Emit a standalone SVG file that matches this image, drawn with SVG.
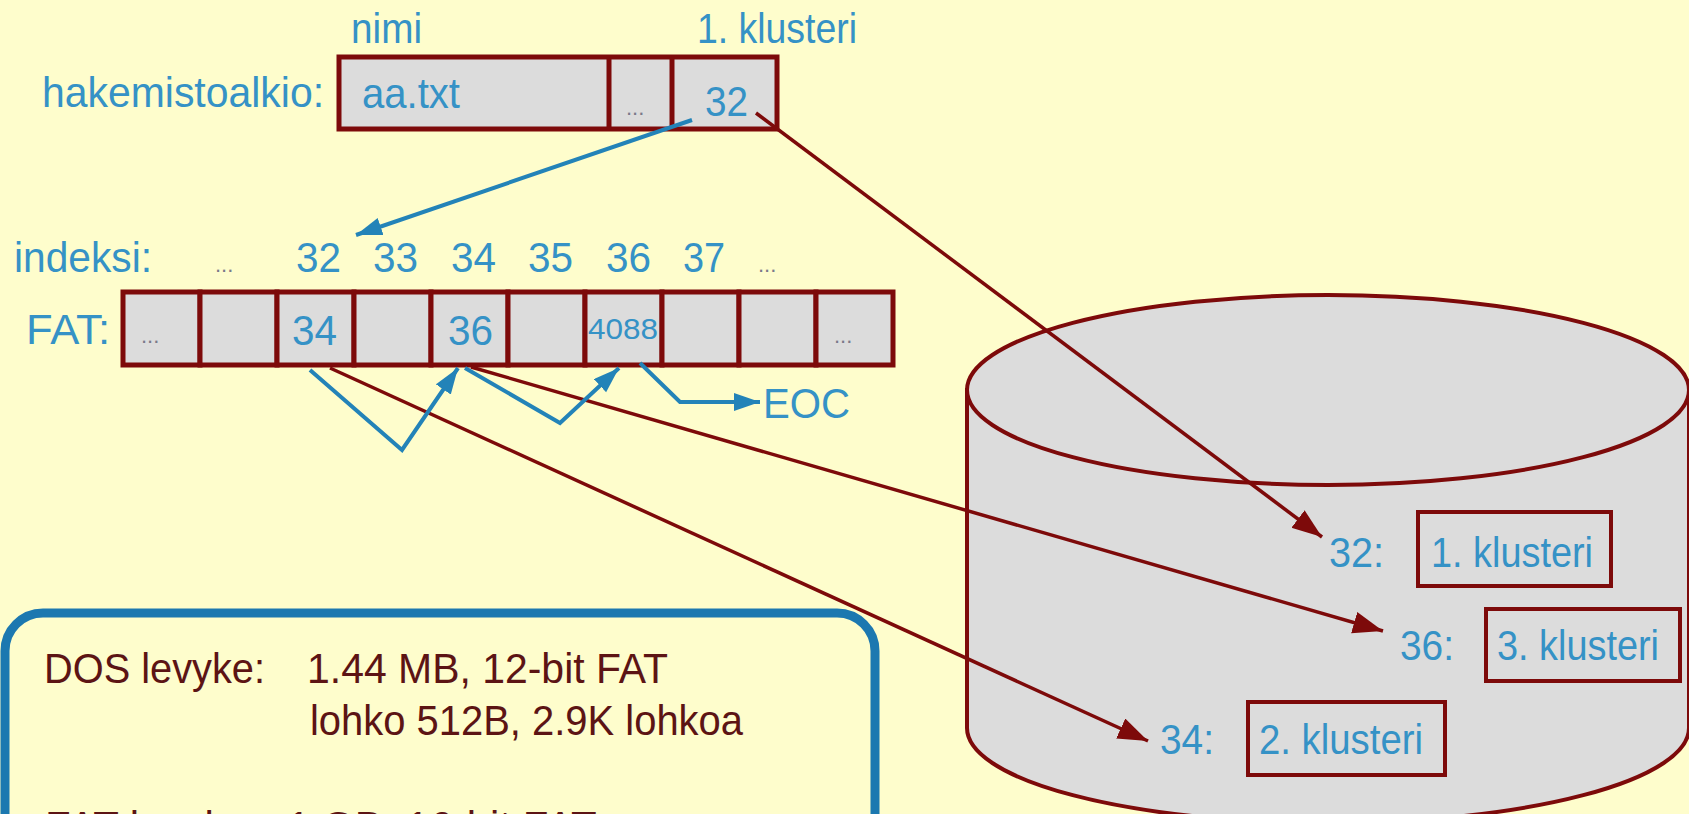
<svg xmlns="http://www.w3.org/2000/svg" width="1689" height="814" viewBox="0 0 1689 814">
<defs>
<style>
.t{font-family:"Liberation Sans",Arial,sans-serif;font-size:42px;fill:#3592c6}
.d{font-family:"Liberation Sans",Arial,sans-serif;font-size:22px;fill:#7a7a8a}
.k{font-family:"Liberation Sans",Arial,sans-serif;font-size:42px;fill:#5c1414}
.cell{fill:#dcdcdc;stroke:#7d0a0a;stroke-width:5}
.cl{fill:none;stroke:#7d0a0a;stroke-width:4}
.red{fill:none;stroke:#7d0a0a;stroke-width:3.5;marker-end:url(#ar)}
.blue{fill:none;stroke:#2383b8;stroke-width:4;stroke-linejoin:miter;marker-end:url(#ab)}
</style>
<marker id="ar" markerUnits="userSpaceOnUse" markerWidth="32" markerHeight="24" refX="30" refY="11" orient="auto"><path d="M0,0 L30,11 L0,22 z" fill="#7d0a0a"/></marker>
<marker id="ab" markerUnits="userSpaceOnUse" markerWidth="28" markerHeight="20" refX="26" refY="9" orient="auto"><path d="M0,0 L26,9 L0,18 z" fill="#2383b8"/></marker>
</defs>
<rect width="1689" height="814" fill="#fefdcc"/>

<g id="disk">
<path d="M967,390 L967,728 A361,95 0 0 0 1689,728 L1689,390 Z" fill="#dcdcdc" stroke="#7d0a0a" stroke-width="4"/>
<ellipse cx="1328" cy="390" rx="361" ry="95" fill="#dcdcdc" stroke="#7d0a0a" stroke-width="4"/>
</g>

<g id="cluster1">
<rect x="1418" y="512" width="193" height="74" class="cl"/>
<text x="1329" y="567" class="t" textLength="55" lengthAdjust="spacingAndGlyphs">32:</text>
<text x="1431" y="567" class="t" textLength="162" lengthAdjust="spacingAndGlyphs">1. klusteri</text>
</g>
<g id="cluster3">
<rect x="1486" y="609" width="194" height="72" class="cl"/>
<text x="1400" y="660" class="t" textLength="54" lengthAdjust="spacingAndGlyphs">36:</text>
<text x="1497" y="660" class="t" textLength="162" lengthAdjust="spacingAndGlyphs">3. klusteri</text>
</g>
<g id="cluster2">
<rect x="1248" y="702" width="197" height="73" class="cl"/>
<text x="1160" y="754" class="t" textLength="54" lengthAdjust="spacingAndGlyphs">34:</text>
<text x="1259" y="754" class="t" textLength="164" lengthAdjust="spacingAndGlyphs">2. klusteri</text>
</g>

<g id="direntry">
<text x="351" y="43" class="t" textLength="71" lengthAdjust="spacingAndGlyphs">nimi</text>
<text x="697" y="43" class="t" textLength="160" lengthAdjust="spacingAndGlyphs">1. klusteri</text>
<text x="42" y="107" class="t" textLength="282" lengthAdjust="spacingAndGlyphs">hakemistoalkio:</text>
<rect x="339" y="57" width="438" height="72" class="cell"/>
<line x1="609" y1="57" x2="609" y2="129" stroke="#7d0a0a" stroke-width="5"/>
<line x1="672" y1="57" x2="672" y2="129" stroke="#7d0a0a" stroke-width="5"/>
<text x="362" y="108" class="t" textLength="98" lengthAdjust="spacingAndGlyphs">aa.txt</text>
<text x="626" y="115" class="d">...</text>
<text x="705" y="116" class="t" textLength="43" lengthAdjust="spacingAndGlyphs">32</text>
</g>

<g id="index">
<text x="14" y="272" class="t" textLength="138" lengthAdjust="spacingAndGlyphs">indeksi:</text>
<text x="215" y="272" class="d">...</text>
<text x="296" y="272" class="t" textLength="45" lengthAdjust="spacingAndGlyphs">32</text>
<text x="373" y="272" class="t" textLength="45" lengthAdjust="spacingAndGlyphs">33</text>
<text x="451" y="272" class="t" textLength="45" lengthAdjust="spacingAndGlyphs">34</text>
<text x="528" y="272" class="t" textLength="45" lengthAdjust="spacingAndGlyphs">35</text>
<text x="606" y="272" class="t" textLength="45" lengthAdjust="spacingAndGlyphs">36</text>
<text x="683" y="272" class="t" textLength="42" lengthAdjust="spacingAndGlyphs">37</text>
<text x="758" y="272" class="d">...</text>
</g>

<g id="fat">
<text x="26" y="344" class="t" textLength="84" lengthAdjust="spacingAndGlyphs">FAT:</text>
<rect x="123" y="292" width="77" height="73" class="cell"/>
<rect x="200" y="292" width="77" height="73" class="cell"/>
<rect x="277" y="292" width="77" height="73" class="cell"/>
<rect x="354" y="292" width="77" height="73" class="cell"/>
<rect x="431" y="292" width="77" height="73" class="cell"/>
<rect x="508" y="292" width="77" height="73" class="cell"/>
<rect x="585" y="292" width="77" height="73" class="cell"/>
<rect x="662" y="292" width="77" height="73" class="cell"/>
<rect x="739" y="292" width="77" height="73" class="cell"/>
<rect x="816" y="292" width="77" height="73" class="cell"/>
<text x="141" y="343" class="d">...</text>
<text x="292" y="345" class="t" textLength="45" lengthAdjust="spacingAndGlyphs">34</text>
<text x="448" y="345" class="t" textLength="45" lengthAdjust="spacingAndGlyphs">36</text>
<text x="588" y="339" class="t" style="font-size:30px" textLength="70" lengthAdjust="spacingAndGlyphs">4088</text>
<text x="834" y="343" class="d">...</text>
</g>

<g id="eoc">
<text x="763" y="418" class="t" textLength="87" lengthAdjust="spacingAndGlyphs">EOC</text>
</g>

<g id="connectors">
<line x1="756" y1="113" x2="1322" y2="537" class="red"/>
<line x1="330" y1="368" x2="1148" y2="741" class="red"/>
<line x1="471" y1="367" x2="1383" y2="631" class="red"/>
<line x1="692" y1="120" x2="356" y2="235" class="blue"/>
<polyline points="310,370 402,450 458,368" class="blue"/>
<polyline points="465,368 560,423 619,368" class="blue"/>
<polyline points="640,363 680,402 760,402" class="blue"/>
</g>

<g id="infobox">
<rect x="5" y="613" width="870" height="260" rx="38" ry="38" fill="none" stroke="#1c78b0" stroke-width="9"/>
<text x="44" y="683" class="k" textLength="221" lengthAdjust="spacingAndGlyphs">DOS levyke:</text>
<text x="307" y="683" class="k" textLength="361" lengthAdjust="spacingAndGlyphs">1.44 MB, 12-bit FAT</text>
<text x="310" y="735" class="k" textLength="433" lengthAdjust="spacingAndGlyphs">lohko 512B, 2.9K lohkoa</text>
<text x="45" y="841" class="k">FAT levyke:</text>
<text x="287" y="841" class="k">1 GB, 16-bit FAT</text>
</g>
</svg>
